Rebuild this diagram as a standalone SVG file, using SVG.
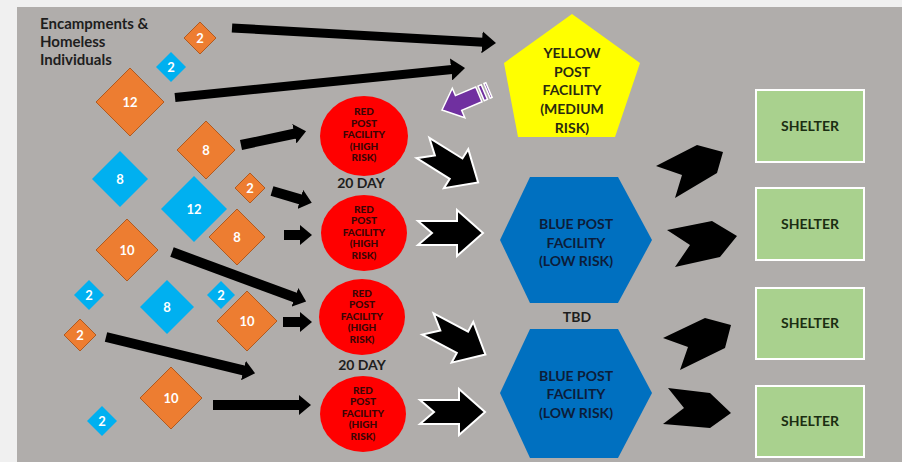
<svg xmlns="http://www.w3.org/2000/svg" width="902" height="462" viewBox="0 0 902 462">
<defs>
<style>
text{font-family:Lato,"Open Sans","Liberation Sans",sans-serif;font-weight:700;text-anchor:middle}
.o{fill:#ed7d31;stroke:#b05a20;stroke-width:1}
.b{fill:#00b0f0}
.num{fill:#ffffff;font-size:13px}
.red{fill:#ff0000}
.rt{fill:#3a0505;font-size:10px;font-weight:900}
.hex{fill:#0070c0}
.ht{fill:#0c1d3a;font-size:14px}
.yt{fill:#2a2a10;font-size:14px}
.sh{fill:#a9d18e;stroke:#ffffff;stroke-width:2}
.st{fill:#1b2e12;font-size:14px}
.lbl{fill:#1e1e1e;font-size:14px}
.ttl{fill:#1e1e1e;font-size:15px;text-anchor:start}
.ln{fill:none;stroke:#000;stroke-width:9}
.ln2{fill:none;stroke:#000;stroke-width:10}
.blk{fill:#000;stroke:#ffffff;stroke-width:2;stroke-linejoin:miter}
.chev{fill:#000}
</style>
<marker id="hb" markerUnits="userSpaceOnUse" viewBox="0 0 14 22" refX="1" refY="11" markerWidth="14" markerHeight="22" orient="auto"><path d="M0,0 L14,11 L0,22 z" fill="#000"/></marker>
<marker id="hs" markerUnits="userSpaceOnUse" viewBox="0 0 12 20" refX="1" refY="10" markerWidth="12" markerHeight="20" orient="auto"><path d="M0,0 L12,10 L0,20 z" fill="#000"/></marker>
<polygon id="blockArrow" points="0,-12 39,-12 39,-23 65,0 39,23 39,12 0,12 14,0"/>
</defs>
<rect x="0" y="0" width="902" height="462" fill="#f0f0f0"/>
<rect x="17" y="7" width="885" height="455" fill="#b0adab"/>

<g id="title">
<text class="ttl" x="40" y="29">Encampments &amp;</text>
<text class="ttl" x="40" y="47">Homeless</text>
<text class="ttl" x="40" y="65">Individuals</text>
</g>

<g id="connectors">
<path class="ln" d="M232,28 L483,42.2" marker-end="url(#hb)"/>
<path class="ln" d="M175,97.5 L452.1,69.4" marker-end="url(#hb)"/>
<path class="ln2" d="M241,145 L295.3,133.5" marker-end="url(#hs)"/>
<path class="ln2" d="M272,191 L301.2,199.6" marker-end="url(#hs)"/>
<path class="ln2" d="M284,235 L301,235" marker-end="url(#hs)"/>
<path class="ln2" d="M172,252 L295.8,297.8" marker-end="url(#hs)"/>
<path class="ln2" d="M283,322 L301,322" marker-end="url(#hs)"/>
<path class="ln2" d="M106,337 L244.4,370.7" marker-end="url(#hs)"/>
<path class="ln2" d="M213,405 L300,405" marker-end="url(#hs)"/>
<use href="#blockArrow" class="blk" transform="translate(423,148) rotate(32)"/>
<use href="#blockArrow" class="blk" transform="translate(418,233)"/>
<use href="#blockArrow" class="blk" transform="translate(428,324) rotate(28)"/>
<use href="#blockArrow" class="blk" transform="translate(420,412)"/>
<g transform="translate(442,110) rotate(157)" fill="#7030a0" stroke="#ffffff" stroke-width="1.5">
<polygon points="0,0 -18,-16 -18,-8 -40,-8 -40,8 -18,8 -18,16"/>
<rect x="-46" y="-8" width="3.5" height="16"/>
<rect x="-51" y="-8" width="2" height="16"/>
</g>
<polygon class="chev" points="656,166 697,145 723,152 717,173 675,198 682,175"/>
<polygon class="chev" points="667,230 712,221 737,236 720,257 675,267 690,245"/>
<polygon class="chev" points="663,338 705,318 731,325 725,348 680,370 688,347"/>
<polygon class="chev" points="668,388 710,393 731,413 710,428 663,424 684,408"/>
</g>

<g id="d1"><polygon class="o" points="200,22 216,38 200,54 184,38"/><text class="num" x="200" y="42.5">2</text></g>
<g id="d2"><polygon class="b" points="171,52 186,67 171,82 156,67"/><text class="num" x="171" y="71.5">2</text></g>
<g id="d3"><polygon class="o" points="130,68 164,102 130,136 96,102"/><text class="num" x="130" y="106.5">12</text></g>
<g id="d4"><polygon class="o" points="206,121 235,150 206,179 177,150"/><text class="num" x="206" y="154.5">8</text></g>
<g id="d5"><polygon class="b" points="120,151 148,179 120,207 92,179"/><text class="num" x="120" y="183.5">8</text></g>
<g id="d6"><polygon class="b" points="194,176 227,209 194,242 161,209"/><text class="num" x="194" y="213.5">12</text></g>
<g id="d7"><polygon class="o" points="250,173 265,188 250,203 235,188"/><text class="num" x="250" y="192.5">2</text></g>
<g id="d8"><polygon class="o" points="237,209 265,237 237,265 209,237"/><text class="num" x="237" y="241.5">8</text></g>
<g id="d9"><polygon class="o" points="127,219 158,250 127,281 96,250"/><text class="num" x="127" y="254.5">10</text></g>
<g id="d10"><polygon class="b" points="89,280 104,295 89,310 74,295"/><text class="num" x="89" y="299.5">2</text></g>
<g id="d11"><polygon class="b" points="167,280 194,307 167,334 140,307"/><text class="num" x="167" y="311.5">8</text></g>
<g id="d12"><polygon class="b" points="221,281 235,295 221,309 207,295"/><text class="num" x="221" y="299.5">2</text></g>
<g id="d13"><polygon class="o" points="247,291 277,321 247,351 217,321"/><text class="num" x="247" y="325.5">10</text></g>
<g id="d14"><polygon class="o" points="80,319 96,335 80,351 64,335"/><text class="num" x="80" y="339.5">2</text></g>
<g id="d15"><polygon class="o" points="171,367 202,398 171,429 140,398"/><text class="num" x="171" y="402.5">10</text></g>
<g id="d16"><polygon class="b" points="102,406 117,421 102,436 87,421"/><text class="num" x="102" y="425.5">2</text></g>

<g id="red1"><ellipse class="red" cx="364" cy="136" rx="44" ry="40"/>
<text class="rt" x="364" y="115">RED</text><text class="rt" x="364" y="126.5">POST</text><text class="rt" x="364" y="138">FACILITY</text><text class="rt" x="364" y="149.5">(HIGH</text><text class="rt" x="364" y="161">RISK)</text></g>
<g id="red2"><ellipse class="red" cx="364" cy="233" rx="43" ry="38"/>
<text class="rt" x="364" y="212.5">RED</text><text class="rt" x="364" y="224">POST</text><text class="rt" x="364" y="235.5">FACILITY</text><text class="rt" x="364" y="247">(HIGH</text><text class="rt" x="364" y="258.5">RISK)</text></g>
<g id="red3"><ellipse class="red" cx="362" cy="317" rx="43" ry="38"/>
<text class="rt" x="362" y="296.5">RED</text><text class="rt" x="362" y="308">POST</text><text class="rt" x="362" y="319.5">FACILITY</text><text class="rt" x="362" y="331">(HIGH</text><text class="rt" x="362" y="342.5">RISK)</text></g>
<g id="red4"><ellipse class="red" cx="363" cy="414" rx="43" ry="38"/>
<text class="rt" x="363" y="393.5">RED</text><text class="rt" x="363" y="405">POST</text><text class="rt" x="363" y="416.5">FACILITY</text><text class="rt" x="363" y="428">(HIGH</text><text class="rt" x="363" y="439.5">RISK)</text></g>

<g id="day1"><text class="lbl" x="361" y="188">20 DAY</text></g>
<g id="day2"><text class="lbl" x="362" y="370">20 DAY</text></g>

<g id="yellow"><polygon points="572,14 640,63 615,137 518,137 504,63" fill="#ffff00"/>
<text class="yt" x="572" y="58">YELLOW</text><text class="yt" x="572" y="77">POST</text><text class="yt" x="572" y="95">FACILITY</text><text class="yt" x="572" y="114">(MEDIUM</text><text class="yt" x="572" y="133">RISK)</text></g>

<g id="blue1"><polygon class="hex" points="500,240 530,177 618,177 652,240 618,303 530,303"/>
<text class="ht" x="576" y="229">BLUE POST</text><text class="ht" x="576" y="248">FACILITY</text><text class="ht" x="576" y="266">(LOW RISK)</text></g>
<g id="tbd"><text class="lbl" x="577" y="322">TBD</text></g>
<g id="blue2"><polygon class="hex" points="500,393 530,329 618,329 652,393 618,458 530,458"/>
<text class="ht" x="576" y="381">BLUE POST</text><text class="ht" x="576" y="399">FACILITY</text><text class="ht" x="576" y="418">(LOW RISK)</text></g>

<g id="shelter1"><rect class="sh" x="756" y="90" width="108" height="72"/><text class="st" x="810" y="131">SHELTER</text></g>
<g id="shelter2"><rect class="sh" x="756" y="188" width="108" height="72"/><text class="st" x="810" y="229">SHELTER</text></g>
<g id="shelter3"><rect class="sh" x="756" y="288" width="108" height="71"/><text class="st" x="810" y="328">SHELTER</text></g>
<g id="shelter4"><rect class="sh" x="756" y="386" width="108" height="71"/><text class="st" x="810" y="426">SHELTER</text></g>
</svg>
